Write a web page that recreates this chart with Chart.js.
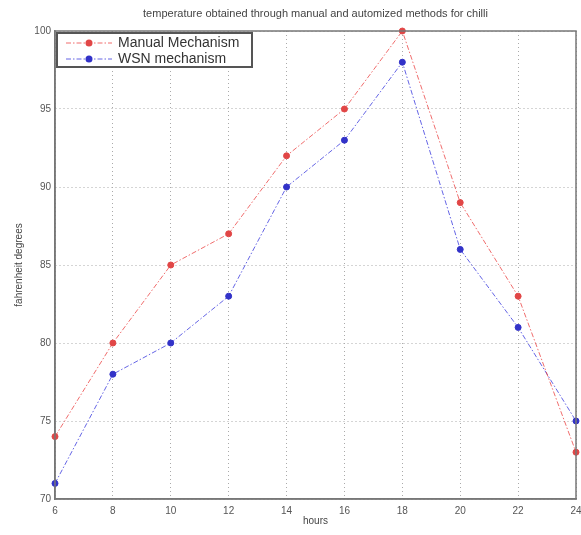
<!DOCTYPE html>
<html>
<head>
<meta charset="utf-8">
<script src="https://cdn.jsdelivr.net/npm/chart.js@4/dist/chart.umd.min.js"></script>
<style>
html,body{margin:0;padding:0;background:#fff;}
#wrap{width:581px;height:535px;position:relative;}
</style>
</head>
<body>
<div id="wrap"><canvas id="c" width="581" height="535"></canvas></div>
<script>
const hours = [6, 8, 10, 12, 14, 16, 18, 20, 22, 24];
const manualValues = [74, 80, 85, 87, 92, 95, 100, 89, 83, 73];
const wsnValues = [71, 78, 80, 83, 90, 93, 98, 86, 81, 75];
const seriesNames = ['Manual Mechanism', 'WSN mechanism'];
const xTicks = [6, 8, 10, 12, 14, 16, 18, 20, 22, 24];
const yTicks = [70, 75, 80, 85, 90, 95, 100];
const chartTitle = 'temperature obtained through manual and automized methods for chilli';
const xTitle = 'hours';
const yTitle = 'fahrenheit degrees';

const FONT = '"Liberation Sans", Arial, sans-serif';
const RED = 'rgba(235,60,60,0.75)';
const BLUE = 'rgba(50,50,220,0.75)';

const overlay = {
  id: 'overlay',
  afterDraw(chart) {
    const ctx = chart.ctx, a = chart.chartArea;
    ctx.save();
    ctx.strokeStyle = '#777';
    ctx.lineWidth = 1.5;
    ctx.setLineDash([]);
    ctx.strokeRect(a.left, a.top, a.right - a.left, a.bottom - a.top);
    ctx.fillStyle = '#444';
    ctx.textAlign = 'center';
    ctx.textBaseline = 'middle';
    ctx.font = '11px ' + FONT;
    ctx.fillText(chartTitle, (a.left + a.right) / 2, 14);
    ctx.font = '10px ' + FONT;
    ctx.fillText(xTitle, (a.left + a.right) / 2, 521);
    ctx.save();
    ctx.translate(19, (a.top + a.bottom) / 2);
    ctx.rotate(-Math.PI / 2);
    ctx.fillText(yTitle, 0, 0);
    ctx.restore();
    const lx = a.left + 2, ly = a.top + 2, lw = 195, lh = 34;
    ctx.fillStyle = '#fff';
    ctx.fillRect(lx, ly, lw, lh);
    ctx.strokeStyle = '#555';
    ctx.lineWidth = 2;
    ctx.strokeRect(lx, ly, lw, lh);
    chart.data.datasets.forEach((ds, i) => {
      const y = ly + 10 + i * 16;
      ctx.strokeStyle = ds.borderColor;
      ctx.lineWidth = 1;
      ctx.setLineDash([5, 2, 1.5, 2]);
      ctx.beginPath();
      ctx.moveTo(lx + 9, y);
      ctx.lineTo(lx + 55, y);
      ctx.stroke();
      ctx.setLineDash([]);
      ctx.fillStyle = ds.pointBackgroundColor;
      ctx.beginPath();
      ctx.arc(lx + 32, y, 3.5, 0, Math.PI * 2);
      ctx.fill();
      ctx.fillStyle = '#333';
      ctx.textAlign = 'left';
      ctx.textBaseline = 'middle';
      ctx.font = '14px ' + FONT;
      ctx.fillText(ds.label, lx + 61, y + 0.5);
    });
    ctx.restore();
  }
};

new Chart(document.getElementById('c'), {
  type: 'line',
  data: {
    datasets: [
      {
        label: seriesNames[0],
        data: hours.map((h, i) => ({x: h, y: manualValues[i]})),
        borderColor: RED,
        borderWidth: 1,
        borderDash: [5, 2, 1.5, 2],
        pointBackgroundColor: 'rgb(225,70,70)',
        pointBorderColor: 'rgb(225,70,70)',
        pointRadius: 3,
        pointStyle: 'circle',
        tension: 0,
        clip: false
      },
      {
        label: seriesNames[1],
        data: hours.map((h, i) => ({x: h, y: wsnValues[i]})),
        borderColor: BLUE,
        borderWidth: 1,
        borderDash: [5, 2, 1.5, 2],
        pointBackgroundColor: 'rgb(50,50,200)',
        pointBorderColor: 'rgb(50,50,200)',
        pointRadius: 3,
        pointStyle: 'circle',
        tension: 0,
        clip: false
      }
    ]
  },
  options: {
    responsive: false,
    animation: false,
    layout: {padding: {top: 31, right: 4, left: 0, bottom: 0}},
    plugins: {legend: {display: false}, title: {display: false}, tooltip: {enabled: false}},
    scales: {
      x: {
        type: 'linear', min: 6, max: 24,
        afterBuildTicks: s => { s.ticks = xTicks.map(v => ({value: v})); },
        afterFit: s => { s.height = 36; s.paddingRight = 0; s.paddingLeft = 0; },
        grid: {color: '#aaa', lineWidth: 1, drawTicks: false},
        border: {display: true, color: '#777', width: 1.5, dash: [1, 3]},
        ticks: {color: '#555', font: {size: 10, family: FONT}, padding: 6, maxRotation: 0, autoSkip: false}
      },
      y: {
        min: 70, max: 100,
        afterBuildTicks: s => { s.ticks = yTicks.map(v => ({value: v})); },
        afterFit: s => { s.width = 55; s.paddingTop = 0; s.paddingBottom = 0; },
        grid: {color: '#aaa', lineWidth: 1, drawTicks: false},
        border: {display: true, color: '#777', width: 1.5, dash: [1, 3]},
        ticks: {color: '#555', font: {size: 10, family: FONT}, padding: 4}
      }
    }
  },
  plugins: [overlay]
});
</script>
</body>
</html>
